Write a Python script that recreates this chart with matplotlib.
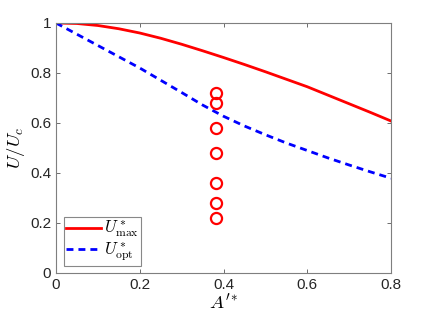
import matplotlib
matplotlib.use("Agg")
import matplotlib.pyplot as plt

plt.rcParams['font.family'] = ['Liberation Sans', 'DejaVu Sans']
plt.rcParams['mathtext.fontset'] = 'cm'

A_vals = [0.0, 0.05, 0.1, 0.15, 0.2, 0.25, 0.3, 0.35, 0.4, 0.45, 0.5,
          0.55, 0.6, 0.65, 0.7, 0.75, 0.8]
U_max = [1.0, 0.998, 0.99, 0.977, 0.96, 0.939, 0.915, 0.889, 0.862, 0.834,
         0.805, 0.775, 0.745, 0.711, 0.677, 0.643, 0.608]
U_opt = [1.0, 0.955, 0.91, 0.865, 0.82, 0.771, 0.722, 0.672, 0.627, 0.588,
         0.553, 0.52, 0.49, 0.46, 0.432, 0.405, 0.379]
circ_A = [0.382] * 7
circ_U = [0.72, 0.68, 0.58, 0.48, 0.36, 0.28, 0.22]

xticks = [0, 0.2, 0.4, 0.6, 0.8]
yticks = [0, 0.2, 0.4, 0.6, 0.8, 1]

fig = plt.figure(figsize=(4.32, 3.24), dpi=100)
ax = fig.add_axes([56/432, 51/324, 335/432, 250/324])

ax.plot(A_vals, U_max, color='#ff0000', lw=2, label=r'$U^*_{\max}$')
ax.plot(A_vals, U_opt, color='#0000ff', lw=2, dashes=(2.5, 1.8), label=r'$U^*_{\rm opt}$')
ax.plot(circ_A, circ_U, linestyle='none', marker='o', markersize=8,
        markerfacecolor='none', markeredgecolor='#ff0000', markeredgewidth=1.6)

ax.set_xlim(0, 0.8)
ax.set_ylim(0, 1)
ax.set_xticks(xticks)
ax.set_xticklabels(['0', '0.2', '0.4', '0.6', '0.8'])
ax.set_yticks(yticks)
ax.set_yticklabels(['0', '0.2', '0.4', '0.6', '0.8', '1'])
ax.tick_params(direction='in', top=True, right=True, length=3, width=0.6,
               color='#555555', labelsize=11, labelcolor='#262626')
for s in ax.spines.values():
    s.set_color('#7f7f7f')
    s.set_linewidth(0.8)

ax.set_xlabel(r"$A'^{*}$", fontsize=13.5, labelpad=1)
ax.set_ylabel(r'$U/U_c$', fontsize=13.5, labelpad=2)

leg = ax.legend(loc='lower left', fontsize=12, handlelength=2.1, handletextpad=0.15,
                borderpad=0.15, labelspacing=0.0, fancybox=False, framealpha=1,
                borderaxespad=0.45)
leg.get_frame().set_edgecolor('#888888')
leg.get_frame().set_linewidth(0.8)

fig.savefig('out.png', dpi=100)
